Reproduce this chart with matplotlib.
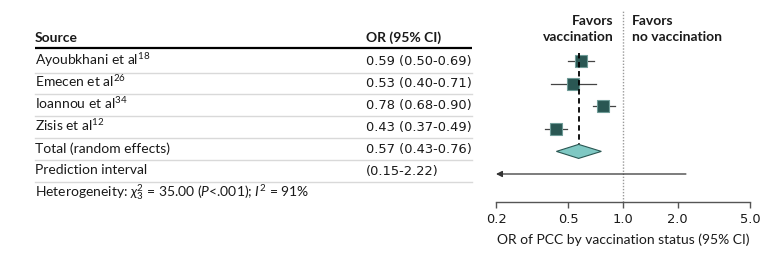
import matplotlib
matplotlib.use('Agg')
import matplotlib.pyplot as plt
import matplotlib.transforms as mtransforms
from matplotlib.patches import Polygon

plt.rcParams['font.family'] = ['Lato', 'DejaVu Sans']
plt.rcParams['mathtext.fontset'] = 'custom'
plt.rcParams['mathtext.rm'] = 'Lato'
plt.rcParams['mathtext.it'] = 'Lato:italic'
plt.rcParams['mathtext.bf'] = 'Lato:bold'

# ── Data ────────────────────────────────────────────────────────────
studies   = ['Ayoubkhani et al', 'Emecen et al', 'Ioannou et al', 'Zisis et al']
refs      = ['18', '26', '34', '12']
odds      = [0.59, 0.53, 0.78, 0.43]
ci_low    = [0.50, 0.40, 0.68, 0.37]
ci_high   = [0.69, 0.71, 0.90, 0.49]
pooled    = 0.57
pooled_ci = (0.43, 0.76)
pred_int  = (0.15, 2.22)
het_text  = r'Heterogeneity: $\chi^2_3$ = 35.00 ($P$<.001); $I^2$ = 91%'
xticks    = [0.2, 0.5, 1.0, 2.0, 5.0]
xticklabs = ['0.2', '0.5', '1.0', '2.0', '5.0']

SQ_FACE  = '#2a5753'
SQ_EDGE  = '#6f9c98'
DIA_FACE = '#7fc8c3'
TXT      = '#1a1a1a'
FS       = 10
NUM_FONT = ['DejaVu Sans']   # wider figures, like the reference
NUM_FS   = 9.4

W, H = 780, 257
fig = plt.figure(figsize=(W / 100, H / 100), dpi=100)

# ── Table (left), y in pixels from the top ─────────────────────────
tab = fig.add_axes([0, 0, 496 / W, 1])
tab.set_xlim(0, 496)
tab.set_ylim(H, 0)
tab.axis('off')

x_src, x_val, x_end = 35, 366, 472
base0, row_sp = 65, 21.9
tab.text(x_src, 42, 'Source', fontsize=FS, fontweight='bold', va='baseline', color=TXT)
tab.text(x_val, 42, 'OR (95% CI)', fontsize=FS, fontweight='bold', va='baseline', color=TXT)
tab.plot([x_src, x_end], [47.5, 47.5], color='black', lw=1.6, solid_capstyle='butt')

labels = [f'{s}$^{{{r}}}$' for s, r in zip(studies, refs)] + ['Total (random effects)', 'Prediction interval']
values = [f'{o:.2f} ({l:.2f}-{h:.2f})' for o, l, h in zip(odds, ci_low, ci_high)]
values += [f'{pooled:.2f} ({pooled_ci[0]:.2f}-{pooled_ci[1]:.2f})',
           f'({pred_int[0]:.2f}-{pred_int[1]:.2f})']
for i, (lab, val) in enumerate(zip(labels, values)):
    yb = base0 + row_sp * i
    tab.text(x_src, yb, lab, fontsize=FS, va='baseline', color=TXT)
    tab.text(x_val, yb, val, fontsize=NUM_FS, family=NUM_FONT, va='baseline', color=TXT)
    tab.plot([x_src, x_end], [yb + 7.5] * 2, color='#d9d9d9', lw=1)
tab.text(x_src, base0 + row_sp * len(labels), het_text, fontsize=FS, va='baseline', color=TXT)

# ── Forest plot (right) ─────────────────────────────────────────────
t_bot, t_top = 202, 10
ax = fig.add_axes([496 / W, (H - t_bot) / H, 254 / W, (t_bot - t_top) / H])
f_r0, f_sp = 61, 22.6
ax.set_xscale('log')
ax.set_xlim(xticks[0], xticks[-1])
ax.set_ylim((t_bot - f_r0) / f_sp, (t_top - f_r0) / f_sp)
ax.patch.set_alpha(0)

sizes = [8.2, 8.2, 8.2, 9.2]
for i in range(len(studies)):
    ax.plot([ci_low[i], ci_high[i]], [i, i], color='#444444', lw=0.9, zorder=2)
    ax.plot(odds[i], i, marker='s', ms=sizes[i], mfc=SQ_FACE, mec=SQ_EDGE, mew=0.8, zorder=3)

k = len(studies)
dh = 0.31
ax.add_patch(Polygon([(pooled_ci[0], k), (pooled, k - dh), (pooled_ci[1], k), (pooled, k + dh)],
                     closed=True, fc=DIA_FACE, ec=SQ_FACE, lw=0.8, zorder=3))
ax.plot([pooled, pooled], [-0.35, k - dh], color='black', lw=1.3, ls=(0, (3, 2)), zorder=4)

# prediction interval, clipped at the axis with an arrow
ax.annotate('', xy=(max(pred_int[0], xticks[0]), k + 1), xytext=(pred_int[1], k + 1),
            arrowprops=dict(arrowstyle='-|>', color='#333333', lw=0.9,
                            mutation_scale=9, shrinkA=0, shrinkB=0))

ax.axvline(1.0, color='#9a9a9a', lw=1, ls=(0, (1, 1.2)), zorder=1)

fav_y = (29 - f_r0) / f_sp
left_off  = mtransforms.offset_copy(ax.transData, fig=fig, x=-9, y=0, units='dots')
right_off = mtransforms.offset_copy(ax.transData, fig=fig, x=9, y=0, units='dots')
ax.text(1.0, fav_y, 'Favors\nvaccination', transform=left_off, ha='right', va='center',
        multialignment='right', fontsize=FS, fontweight='bold', color=TXT, linespacing=1.35)
ax.text(1.0, fav_y, 'Favors\nno vaccination', transform=right_off, ha='left', va='center',
        multialignment='left', fontsize=FS, fontweight='bold', color=TXT, linespacing=1.35)

for s in ['top', 'right', 'left']:
    ax.spines[s].set_visible(False)
ax.spines['bottom'].set_color('#555555')
ax.spines['bottom'].set_linewidth(1)
ax.set_xticks(xticks)
ax.set_xticklabels(xticklabs, family=NUM_FONT, fontsize=NUM_FS)
ax.minorticks_off()
ax.set_yticks([])
ax.tick_params(axis='x', length=4, width=1, color='#555555', labelcolor=TXT, pad=4)
ax.set_xlabel('OR of PCC by vaccination status (95% CI)', fontsize=FS, color=TXT, labelpad=5)

fig.savefig('out.png', dpi=100, facecolor='white')
plt.close(fig)
